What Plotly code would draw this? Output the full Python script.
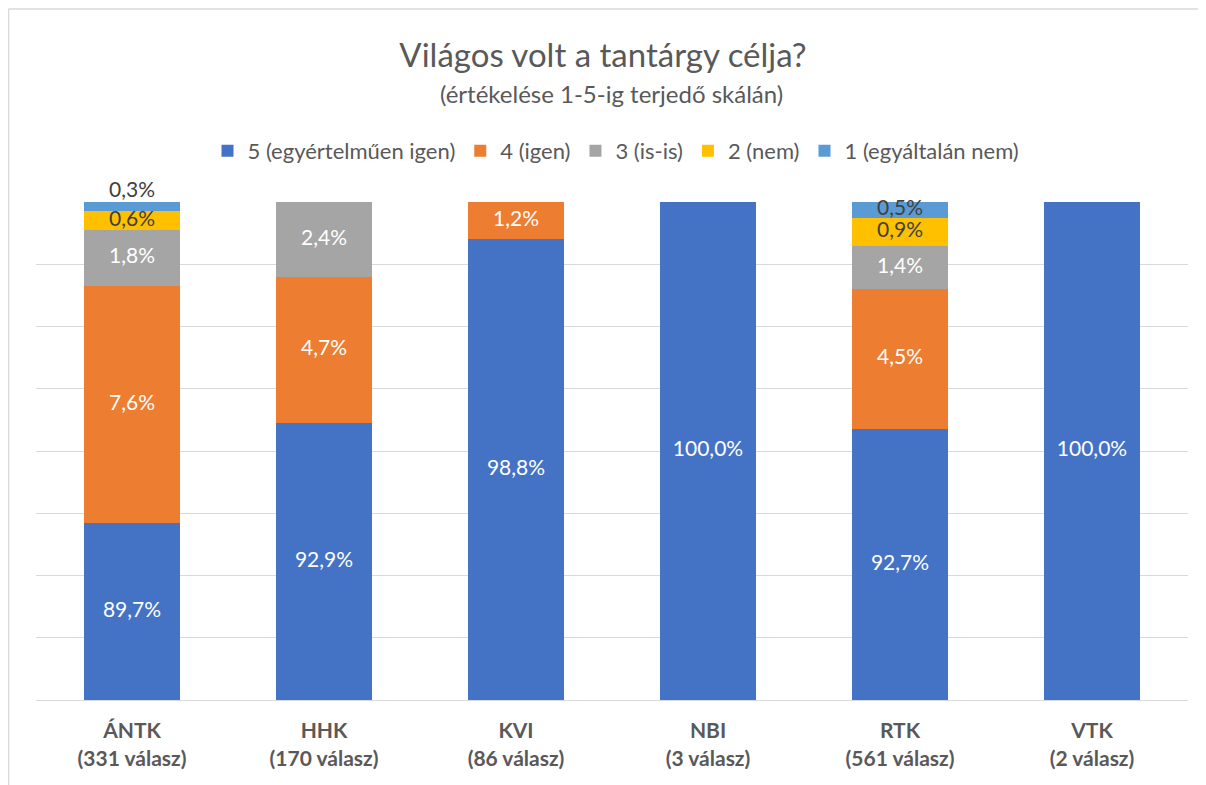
import plotly.graph_objects as go

categories = ["ÁNTK", "HHK", "KVI", "NBI", "RTK", "VTK"]
responses = [331, 170, 86, 3, 561, 2]

series_names = ["5 (egyértelműen igen)", "4 (igen)", "3 (is-is)", "2 (nem)", "1 (egyáltalán nem)"]
v5 = [89.7, 92.9, 98.8, 100.0, 92.7, 100.0]
v4 = [7.6, 4.7, 1.2, None, 4.5, None]
v3 = [1.8, 2.4, None, None, 1.4, None]
v2 = [0.6, None, None, None, 0.9, None]
v1 = [0.3, None, None, None, 0.5, None]

# which labels of the top series sit above the bar
v1_label_outside = [True, False, False, False, False, False]

colors = ["#4472C4", "#ED7D31", "#A5A5A5", "#FFC000", "#5B9BD5"]
label_colors = ["white", "white", "white", "#404040", "#404040"]

FONT = "Lato, Open Sans, sans-serif"
Y_MIN, Y_MAX = 84, 100

# The page body adds an 8px offset; figure is sized so the result fills 1206x785
OFF = 8
W, H = 1206 - OFF, 785 - OFF
PL, PR, PT, PB = 36, 1188, 202, 700  # plot area in page pixels
L, T = PL - OFF, PT - OFF
R = W - (PR - OFF)
B = H - (PB - OFF)
pw = PR - PL
ph = PB - PT


def px(x):
    return (x - PL) / pw


def py(y):
    return (PB - y) / ph


fig = go.Figure()
all_vals = [v5, v4, v3, v2, v1]
for i, (name, vals) in enumerate(zip(series_names, all_vals)):
    fig.add_trace(go.Bar(
        x=categories, y=vals, name=name,
        marker=dict(color=colors[i], line=dict(width=0)),
        width=0.5, hoverinfo="skip",
    ))

# data labels, centred on the visible part of each segment
bottoms = [0.0] * len(categories)
for i, vals in enumerate(all_vals):
    xs, ys, texts, poss = [], [], [], []
    for j, v in enumerate(vals):
        if v is None:
            continue
        b = bottoms[j]
        top = b + v
        if i == 4 and v1_label_outside[j]:
            ys.append(top)
            poss.append("top center")
        else:
            ys.append((max(b, Y_MIN) + min(top, Y_MAX)) / 2)
            poss.append("middle center")
        xs.append(categories[j])
        texts.append(f"{v:.1f}%".replace(".", ","))
        bottoms[j] = top
    fig.add_trace(go.Scatter(
        x=xs, y=ys, text=texts, mode="text", textposition=poss,
        textfont=dict(size=21, family=FONT,
                      color=["#404040" if p == "top center" else label_colors[i] for p in poss]),
        showlegend=False, hoverinfo="skip", cliponaxis=False,
    ))

fig.update_layout(
    width=W, height=H,
    barmode="stack",
    paper_bgcolor="white", plot_bgcolor="white",
    margin=dict(l=L, r=R, t=T, b=B, pad=0, autoexpand=False),
    font=dict(family=FONT, color="#595959"),
    title=dict(text="Világos volt a tantárgy célja?", x=px(603), xanchor="center", xref="paper",
               y=1 - (55 - OFF) / H, yanchor="middle",
               font=dict(size=33, color="#595959", family=FONT)),
    legend=dict(orientation="h", x=px(616), xanchor="center", y=py(151), yanchor="middle",
                font=dict(size=22, color="#595959", family=FONT),
                traceorder="normal", itemwidth=30, bgcolor="rgba(0,0,0,0)"),
    showlegend=True,
    xaxis=dict(
        tickmode="array", tickvals=categories,
        ticktext=[f"<b>{c}<br>({n} válasz)</b>" for c, n in zip(categories, responses)],
        tickfont=dict(size=21, color="#595959", family=FONT),
        showline=True, linecolor="#D9D9D9", linewidth=1,
        showgrid=False, ticks="", ticklen=0, ticklabelstandoff=12,
    ),
    yaxis=dict(
        range=[Y_MIN, Y_MAX], dtick=2, tick0=Y_MIN,
        showticklabels=False, showgrid=True, gridcolor="#D9D9D9", gridwidth=1,
        zeroline=False, showline=False, ticks="",
    ),
    annotations=[
        dict(text="(értékelése 1-5-ig terjedő skálán)", xref="paper", yref="paper",
             x=px(611), y=py(94), xanchor="center", yanchor="middle", showarrow=False,
             font=dict(size=24, color="#595959", family=FONT)),
    ],
    shapes=[
        dict(type="line", xref="paper", yref="paper", x0=px(8.5), x1=px(8.5), y0=py(9), y1=py(790),
             line=dict(color="#D9D9D9", width=1.5)),
        dict(type="line", xref="paper", yref="paper", x0=px(8.5), x1=px(1210), y0=py(9), y1=py(9),
             line=dict(color="#D9D9D9", width=1.5)),
    ],
)

fig.write_html("out.html")
